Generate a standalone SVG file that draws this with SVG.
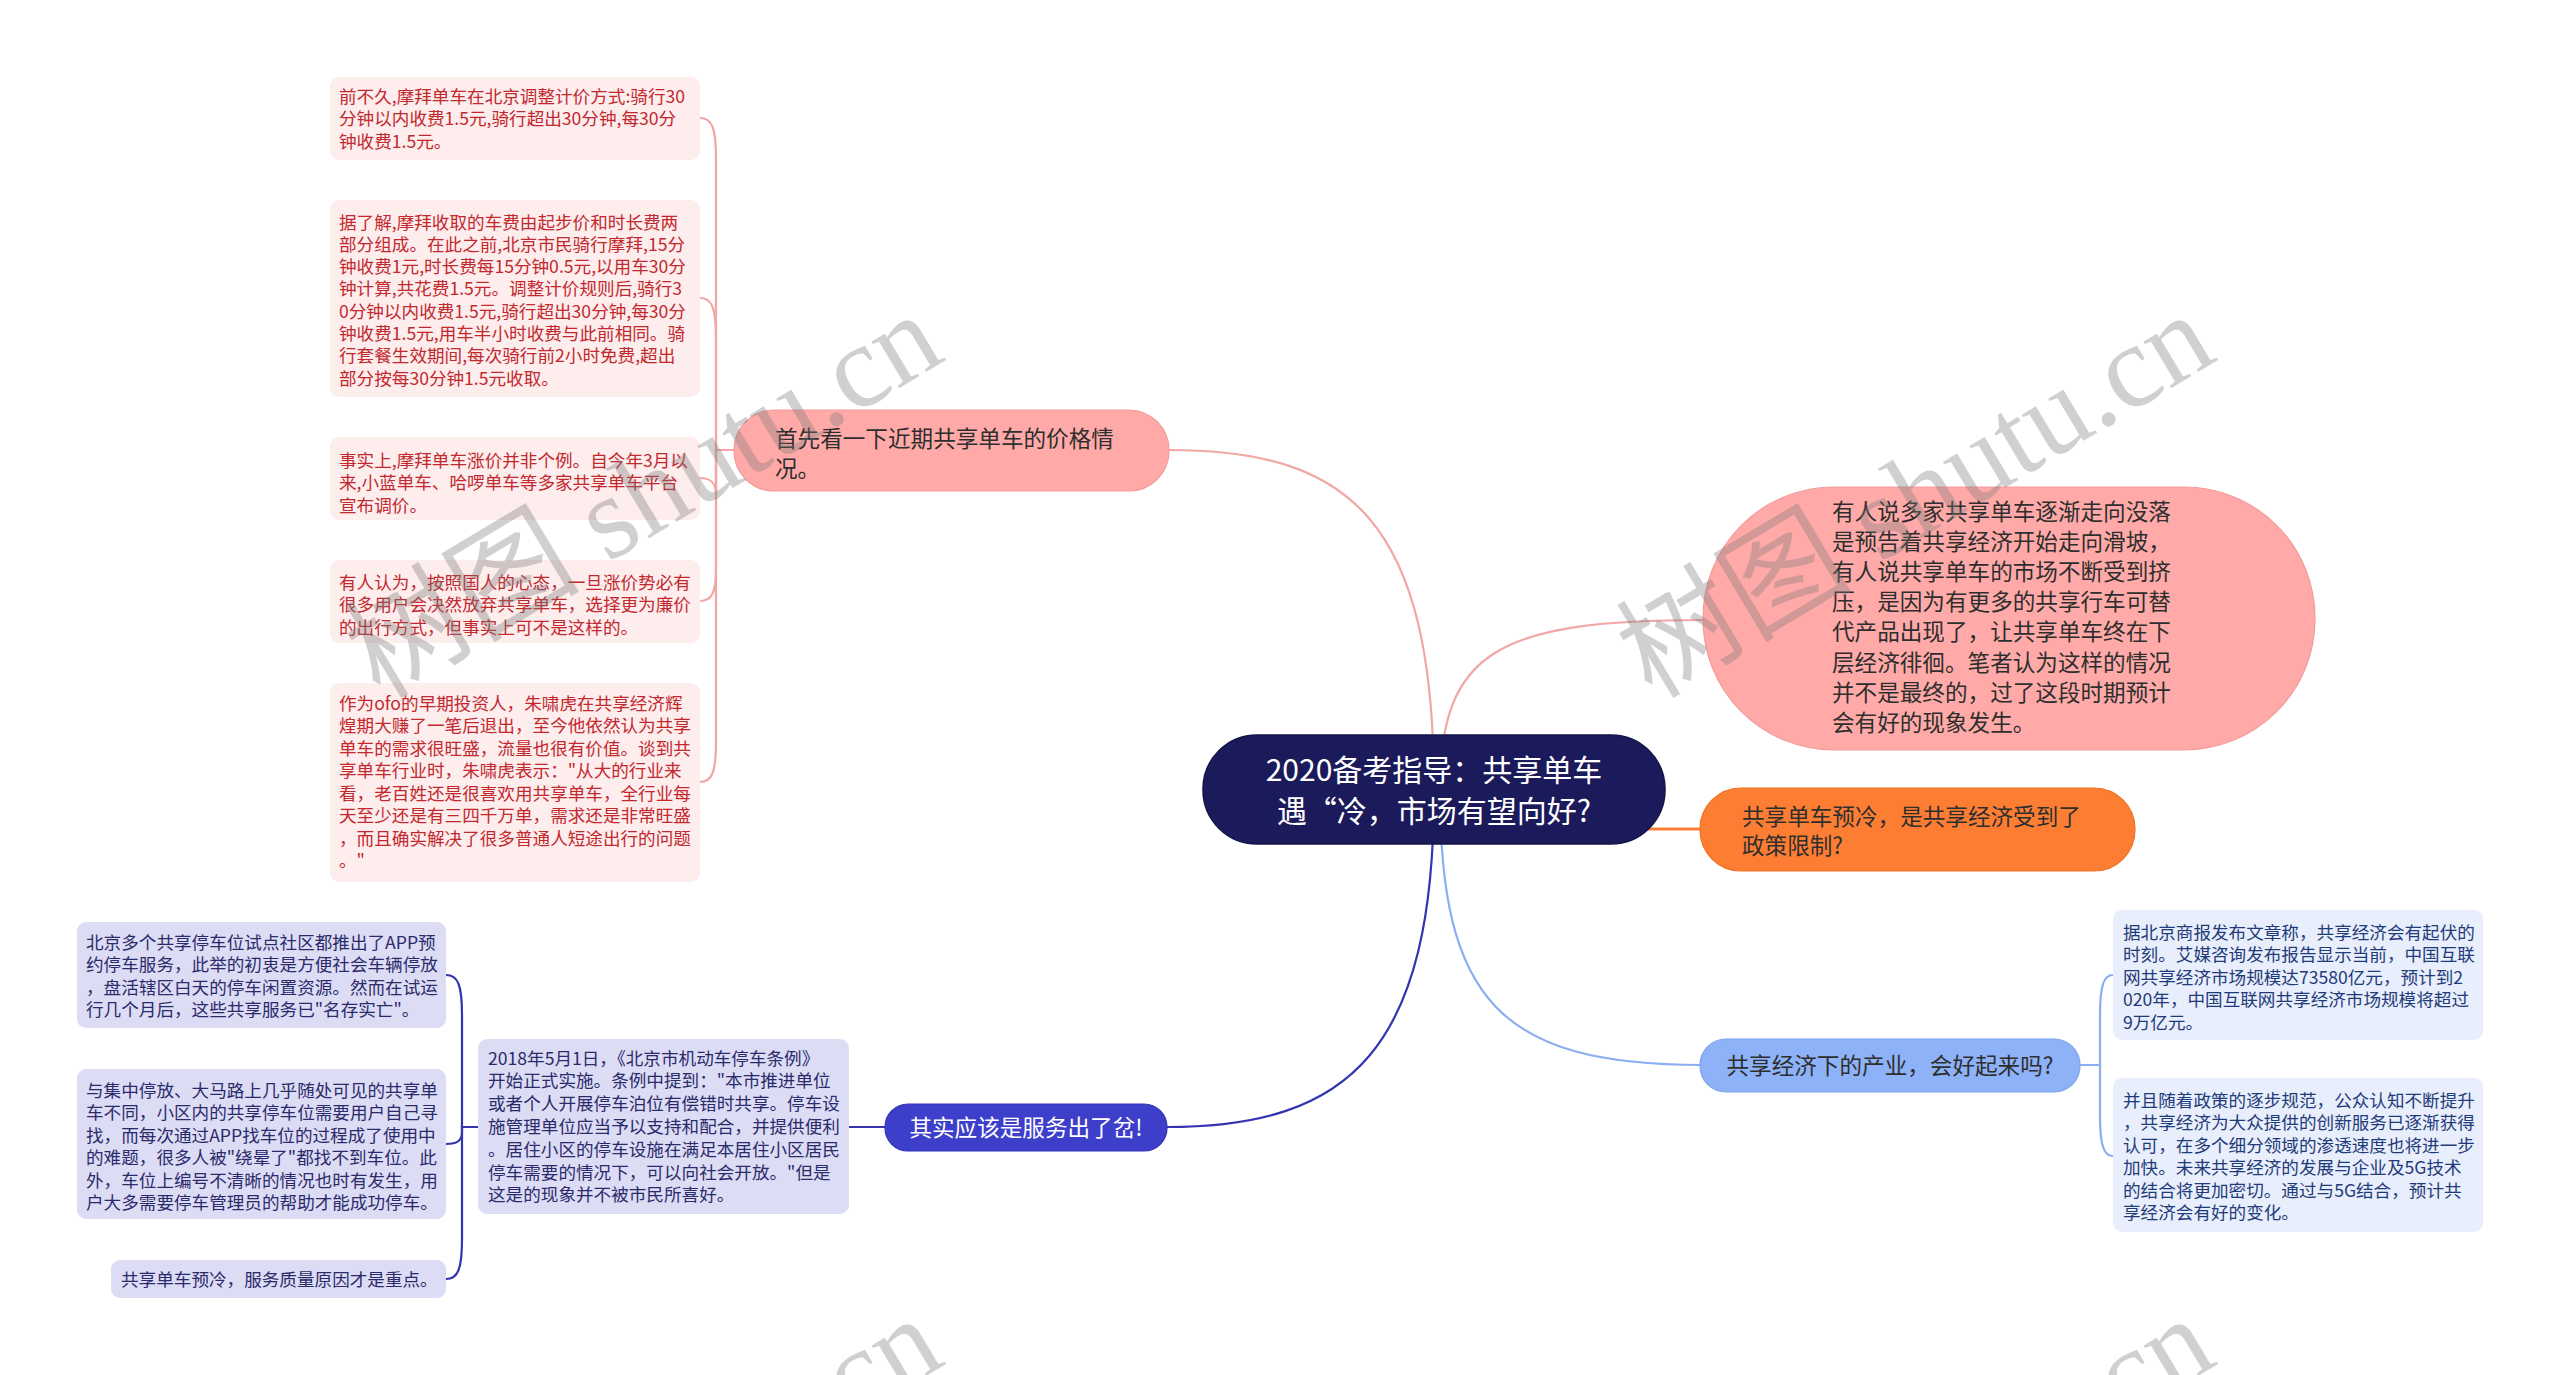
<svg xmlns="http://www.w3.org/2000/svg" width="2560" height="1375" viewBox="0 0 2560 1375">
<style>
text{font-family:"Noto Sans CJK SC","Noto Sans",sans-serif;}
.pl{fill:#fdeded;}
.plt{fill:#c3282d;font-size:17.6px;}
.bl{fill:#e8eefb;}
.blt{fill:#1f3b7a;font-size:17.6px;}
.ll{fill:#dcdcf5;}
.llt{fill:#2b2b6b;font-size:17.6px;}
.bt{fill:#2e2e2e;font-size:22.6px;}
.c{fill:none;stroke-width:2.2;}
.cp{stroke:#f2a7a5;}
.co{stroke:#f77f33;stroke-width:3;}
.cb{stroke:#8aaef0;}
.ci{stroke:#3434b0;}
.wm{fill:#7a7a7a;opacity:0.35;font-family:"Liberation Serif","Noto Sans CJK SC",serif;font-size:118px;}
</style>
<rect width="2560" height="1375" fill="#ffffff"/>
<g id="connectors">
<path class="c cp" d="M1434 790 C1434 520 1350 450 1169 450"/>
<path class="c cp" d="M1440 790 C1440 650 1500 620 1705 620"/>
<path class="c co" d="M1600 829 H1702"/>
<path class="c cb" d="M1440 790 C1440 1000 1500 1065 1702 1065"/>
<path class="c ci" d="M1434 790 C1434 1050 1350 1127 1167 1127"/>
<path class="c cp" d="M735 450 H716 V158 C716 128 712 118 700 118"/>
<path class="c cp" d="M735 450 H716 V338 C716 308 712 298 700 298"/>
<path class="c cp" d="M735 450 H716 V495 C716 484 712 478 700 478"/>
<path class="c cp" d="M735 450 H716 V570 C716 592 712 601 700 601"/>
<path class="c cp" d="M735 450 H716 V742 C716 772 712 782 700 782"/>
<path class="c cb" d="M2080 1065 H2100 V1015 C2100 985 2104 975 2113 975"/>
<path class="c cb" d="M2080 1065 H2100 V1116 C2100 1146 2104 1156 2113 1156"/>
<path class="c ci" d="M885 1127 H849"/>
<path class="c ci" d="M478 1127 H462 V1015 C462 985 458 975 446 975"/>
<path class="c ci" d="M478 1127 H462 V1132 C462 1140 458 1144 446 1144"/>
<path class="c ci" d="M478 1127 H462 V1239 C462 1269 458 1279 446 1279"/>
</g>
<g id="root">
<rect x="1203" y="735" width="462" height="109" rx="54" fill="#1b1b5c" stroke="#141448" stroke-width="1.5"/>
<text x="1434" y="781" text-anchor="middle" fill="#ffffff" font-size="30">2020备考指导：共享单车</text>
<text x="1434" y="822" text-anchor="middle" fill="#ffffff" font-size="30">遇“冷，市场有望向好?</text>
</g>
<g id="branch-price">
<rect x="734" y="410" width="435" height="81" rx="40" fill="#ffaaa8" stroke="#f19c9a" stroke-width="1.2"/>
<text class="bt" x="775" y="446.5">首先看一下近期共享单车的价格情</text>
<text class="bt" x="775" y="476.5">况。</text>
</g>
<g id="leaf-p1">
<rect class="pl" x="330" y="77" width="370" height="83" rx="9"/>
<text class="plt" x="339" y="102.5">前不久,摩拜单车在北京调整计价方式:骑行30</text>
<text class="plt" x="339" y="125">分钟以内收费1.5元,骑行超出30分钟,每30分</text>
<text class="plt" x="339" y="147.5">钟收费1.5元。</text>
</g>
<g id="leaf-p2">
<rect class="pl" x="330" y="200" width="370" height="197" rx="9"/>
<text class="plt" x="339" y="228.5">据了解,摩拜收取的车费由起步价和时长费两</text>
<text class="plt" x="339" y="250.8">部分组成。在此之前,北京市民骑行摩拜,15分</text>
<text class="plt" x="339" y="273.1">钟收费1元,时长费每15分钟0.5元,以用车30分</text>
<text class="plt" x="339" y="295.4">钟计算,共花费1.5元。调整计价规则后,骑行3</text>
<text class="plt" x="339" y="317.7">0分钟以内收费1.5元,骑行超出30分钟,每30分</text>
<text class="plt" x="339" y="340">钟收费1.5元,用车半小时收费与此前相同。骑</text>
<text class="plt" x="339" y="362.3">行套餐生效期间,每次骑行前2小时免费,超出</text>
<text class="plt" x="339" y="384.6">部分按每30分钟1.5元收取。</text>
</g>
<g id="leaf-p3">
<rect class="pl" x="330" y="437" width="370" height="83" rx="9"/>
<text class="plt" x="339" y="466.5">事实上,摩拜单车涨价并非个例。自今年3月以</text>
<text class="plt" x="339" y="489">来,小蓝单车、哈啰单车等多家共享单车平台</text>
<text class="plt" x="339" y="511.5">宣布调价。</text>
</g>
<g id="leaf-p4">
<rect class="pl" x="330" y="560" width="370" height="83" rx="9"/>
<text class="plt" x="339" y="588.5">有人认为，按照国人的心态，一旦涨价势必有</text>
<text class="plt" x="339" y="611">很多用户会决然放弃共享单车，选择更为廉价</text>
<text class="plt" x="339" y="633.5">的出行方式，但事实上可不是这样的。</text>
</g>
<g id="leaf-p5">
<rect class="pl" x="330" y="683" width="370" height="199" rx="9"/>
<text class="plt" x="339" y="709.5">作为ofo的早期投资人，朱啸虎在共享经济辉</text>
<text class="plt" x="339" y="732">煌期大赚了一笔后退出，至今他依然认为共享</text>
<text class="plt" x="339" y="754.5">单车的需求很旺盛，流量也很有价值。谈到共</text>
<text class="plt" x="339" y="777">享单车行业时，朱啸虎表示："从大的行业来</text>
<text class="plt" x="339" y="799.5">看，老百姓还是很喜欢用共享单车，全行业每</text>
<text class="plt" x="339" y="822">天至少还是有三四千万单，需求还是非常旺盛</text>
<text class="plt" x="339" y="844.5">，而且确实解决了很多普通人短途出行的问题</text>
<text class="plt" x="339" y="867">。"</text>
</g>
<g id="branch-opinion">
<rect x="1703" y="487" width="612" height="263" rx="131" fill="#ffaaa8" stroke="#f19c9a" stroke-width="1.2"/>
<text class="bt" x="1832" y="519.5">有人说多家共享单车逐渐走向没落</text>
<text class="bt" x="1832" y="549.7">是预告着共享经济开始走向滑坡，</text>
<text class="bt" x="1832" y="579.9">有人说共享单车的市场不断受到挤</text>
<text class="bt" x="1832" y="610.1">压，是因为有更多的共享行车可替</text>
<text class="bt" x="1832" y="640.3">代产品出现了，让共享单车终在下</text>
<text class="bt" x="1832" y="670.5">层经济徘徊。笔者认为这样的情况</text>
<text class="bt" x="1832" y="700.7">并不是最终的，过了这段时期预计</text>
<text class="bt" x="1832" y="730.9">会有好的现象发生。</text>
</g>
<g id="branch-policy">
<rect x="1700" y="788" width="435" height="83" rx="41" fill="#fd7e33" stroke="#f07224" stroke-width="1.2"/>
<text class="bt" x="1742" y="824.5">共享单车预冷，是共享经济受到了</text>
<text class="bt" x="1742" y="853.5">政策限制?</text>
</g>
<g id="branch-industry">
<rect x="1700" y="1039" width="380" height="53" rx="26" fill="#8db2f7" stroke="#7fa4ec" stroke-width="1.2"/>
<text class="bt" x="1890" y="1073.5" text-anchor="middle">共享经济下的产业，会好起来吗?</text>
</g>
<g id="leaf-b1">
<rect class="bl" x="2113" y="910" width="370" height="130" rx="9"/>
<text class="blt" x="2123" y="938.5">据北京商报发布文章称，共享经济会有起伏的</text>
<text class="blt" x="2123" y="961">时刻。艾媒咨询发布报告显示当前，中国互联</text>
<text class="blt" x="2123" y="983.5">网共享经济市场规模达73580亿元，预计到2</text>
<text class="blt" x="2123" y="1006">020年，中国互联网共享经济市场规模将超过</text>
<text class="blt" x="2123" y="1028.5">9万亿元。</text>
</g>
<g id="leaf-b2">
<rect class="bl" x="2113" y="1078" width="370" height="154" rx="9"/>
<text class="blt" x="2123" y="1106.5">并且随着政策的逐步规范，公众认知不断提升</text>
<text class="blt" x="2123" y="1129">，共享经济为大众提供的创新服务已逐渐获得</text>
<text class="blt" x="2123" y="1151.5">认可，在多个细分领域的渗透速度也将进一步</text>
<text class="blt" x="2123" y="1174">加快。未来共享经济的发展与企业及5G技术</text>
<text class="blt" x="2123" y="1196.5">的结合将更加密切。通过与5G结合，预计共</text>
<text class="blt" x="2123" y="1219">享经济会有好的变化。</text>
</g>
<g id="branch-service">
<rect x="885" y="1104" width="282" height="47" rx="23" fill="#3d3fcb" stroke="#3334b5" stroke-width="1.2"/>
<text x="1026" y="1135.5" text-anchor="middle" fill="#ffffff" font-size="22.6">其实应该是服务出了岔!</text>
</g>
<g id="leaf-s1">
<rect class="ll" x="478" y="1039" width="371" height="175" rx="9"/>
<text class="llt" x="488" y="1064.5">2018年5月1日，《北京市机动车停车条例》</text>
<text class="llt" x="488" y="1087.3">开始正式实施。条例中提到："本市推进单位</text>
<text class="llt" x="488" y="1110.1">或者个人开展停车泊位有偿错时共享。停车设</text>
<text class="llt" x="488" y="1132.9">施管理单位应当予以支持和配合，并提供便利</text>
<text class="llt" x="488" y="1155.7">。居住小区的停车设施在满足本居住小区居民</text>
<text class="llt" x="488" y="1178.5">停车需要的情况下，可以向社会开放。"但是</text>
<text class="llt" x="488" y="1201.3">这是的现象并不被市民所喜好。</text>
</g>
<g id="leaf-k1">
<rect class="ll" x="77" y="922" width="369" height="106" rx="9"/>
<text class="llt" x="86" y="948.5">北京多个共享停车位试点社区都推出了APP预</text>
<text class="llt" x="86" y="971">约停车服务，此举的初衷是方便社会车辆停放</text>
<text class="llt" x="86" y="993.5">，盘活辖区白天的停车闲置资源。然而在试运</text>
<text class="llt" x="86" y="1016">行几个月后，这些共享服务已"名存实亡"。</text>
</g>
<g id="leaf-k2">
<rect class="ll" x="77" y="1069" width="369" height="150" rx="9"/>
<text class="llt" x="86" y="1096.5">与集中停放、大马路上几乎随处可见的共享单</text>
<text class="llt" x="86" y="1119">车不同，小区内的共享停车位需要用户自己寻</text>
<text class="llt" x="86" y="1141.5">找，而每次通过APP找车位的过程成了使用中</text>
<text class="llt" x="86" y="1164">的难题，很多人被"绕晕了"都找不到车位。此</text>
<text class="llt" x="86" y="1186.5">外，车位上编号不清晰的情况也时有发生，用</text>
<text class="llt" x="86" y="1209">户大多需要停车管理员的帮助才能成功停车。</text>
</g>
<g id="leaf-k3">
<rect class="ll" x="111" y="1260" width="335" height="38" rx="9"/>
<text class="llt" x="121" y="1285.5">共享单车预冷，服务质量原因才是重点。</text>
</g>
<g id="watermarks">
<text class="wm" transform="translate(380 700) rotate(-31)">树图 shutu.cn</text>
<text class="wm" transform="translate(1652 700) rotate(-31)">树图 shutu.cn</text>
<text class="wm" transform="translate(380 1704) rotate(-31)">树图 shutu.cn</text>
<text class="wm" transform="translate(1652 1704) rotate(-31)">树图 shutu.cn</text>
</g>
</svg>
